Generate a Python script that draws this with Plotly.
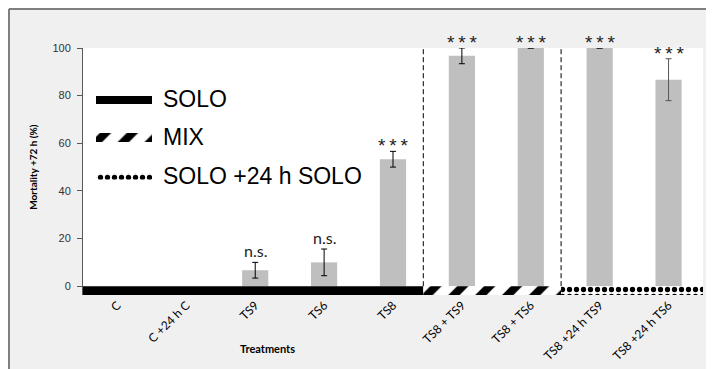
import plotly.graph_objects as go

# ---------------- data ----------------
categories = ["C", "C +24 h C", "TS9", "TS6", "TS8",
              "TS8 + TS9", "TS8 + TS6", "TS8 +24 h TS9", "TS8 +24 h TS6"]
mortality = [0, 0, 6.7, 10.0, 53.3, 96.7, 100, 100, 86.7]
errors = [None, None, 3.3, 5.6, 3.3, 3.3, 0, 0, 8.8]
significance = ["", "", "n.s.", "n.s.", "***", "***", "***", "***", "***"]

group_labels = ["SOLO", "MIX", "SOLO +24 h SOLO"]
group_sizes = [5, 2, 2]
y_ticks = [0, 20, 40, 60, 80, 100]

# ---------------- style ----------------
FONT_AR = "Arial, 'Liberation Sans', sans-serif"
FONT_CAL = "Lato, 'Open Sans', sans-serif"
W, H = 706, 361
ML, MT, MB = 75, 40, 74
PW, PH = 620, H - MT - MB
MR = W - ML - PW
BAND = 3.7          # depth of the group band below zero (y units)
EDGE_SHIFT = -0.06  # small shift of group separators
pat_shapes = ["", "/", "."]
pat_sizes = [8, 19, 7]
pat_solid = [0.3, 0.42, 0.45]
band_colors = ["black", "white", "white"]
leg_y = [195, 157.5, 118.5]      # legend rows (pixels from plot bottom)
leg_th = [8, 9, 6]

# group boundaries from group sizes
bounds = [-0.5]
for s in group_sizes:
    bounds.append(bounds[-1] + s)
edges = [bounds[0]] + [b + EDGE_SHIFT for b in bounds[1:-1]] + [bounds[-1]]


def marker_for(i):
    m = dict(color=band_colors[i], line=dict(width=0))
    if pat_shapes[i]:
        m["pattern"] = dict(shape=pat_shapes[i], fgcolor="black", bgcolor="white",
                            fgopacity=1, size=pat_sizes[i], solidity=pat_solid[i])
    return m


fig = go.Figure()

# main bars
fig.add_trace(go.Bar(
    x=categories, y=mortality, width=0.38,
    marker=dict(color="#bfbfbf", line=dict(width=0)),
    showlegend=False, cliponaxis=False, hoverinfo="x+y",
))

# error bars only where an error exists
ex = [c for c, e in zip(categories, errors) if e is not None]
ey = [v for v, e in zip(mortality, errors) if e is not None]
ee = [e for e in errors if e is not None]
err_colors = ["black"] * (len(ex) - 1) + ["#555555"]
for xx, yy, e, col in zip(ex, ey, ee, err_colors):
    fig.add_trace(go.Scatter(
        x=[xx], y=[yy], mode="markers", marker=dict(size=0.1, opacity=0),
        error_y=dict(type="data", array=[e], visible=True,
                     color=col, thickness=1, width=3),
        showlegend=False, cliponaxis=False,
    ))

# group band under the axis + legend swatches
for i in range(len(group_sizes)):
    fig.add_trace(go.Bar(
        x=[(edges[i] + edges[i + 1]) / 2], y=[BAND], base=[-BAND],
        width=[edges[i + 1] - edges[i]],
        xaxis="x2", yaxis="y", marker=marker_for(i), showlegend=False,
    ))
    fig.add_trace(go.Bar(
        orientation="h", y=[leg_y[i]], x=[56], base=[13], width=[leg_th[i]],
        xaxis="x3", yaxis="y3", marker=marker_for(i), showlegend=False,
    ))

annotations = []
for lbl, yy in zip(group_labels, leg_y):
    annotations.append(dict(x=78, y=yy + 1, xref="x3", yref="y3", text=lbl,
                            showarrow=False, xanchor="left", yanchor="middle",
                            font=dict(family=FONT_AR, size=23, color="black")))

for c, v, e, s in zip(categories, mortality, errors, significance):
    if not s:
        continue
    top = v + (e or 0)
    if s == "***":
        annotations.append(dict(x=c, y=top, xref="x", yref="y",
                                text="*\u2009*\u2009*",
                                showarrow=False, yanchor="bottom", yshift=-7,
                                font=dict(family=FONT_AR, size=19, color="#222222")))
    else:
        annotations.append(dict(x=c, y=top, xref="x", yref="y", text=s,
                                showarrow=False, yanchor="bottom", yshift=0,
                                font=dict(family=FONT_CAL, size=16, color="#222222")))

annotations.append(dict(x=-0.081, y=0.518, xref="paper", yref="paper",
                        text="<b>Mortality +72 h (%)</b>", textangle=-90,
                        showarrow=False, xanchor="center", yanchor="middle",
                        font=dict(family=FONT_CAL, size=10, color="black")))
annotations.append(dict(x=0.297, y=-0.215, xref="paper", yref="paper",
                        text="<b>Treatments</b>",
                        showarrow=False, xanchor="center", yanchor="middle",
                        font=dict(family=FONT_CAL, size=11, color="black")))

shapes = []
for b in edges[1:-1]:
    shapes.append(dict(type="line", xref="x", yref="y", x0=b, x1=b, y0=0, y1=100,
                       line=dict(color="black", width=1, dash="5px,3px")))
# outer frame (left and top)
shapes.append(dict(type="line", xref="paper", yref="paper",
                   x0=-(ML - 1) / PW, x1=-(ML - 1) / PW,
                   y0=-(MB + 20) / PH, y1=1 + (MT - 1) / PH,
                   line=dict(color="#7f7f7f", width=2), layer="below"))
shapes.append(dict(type="line", xref="paper", yref="paper",
                   x0=-(ML - 1) / PW, x1=1 + (MR + 20) / PW,
                   y0=1 + (MT - 1) / PH, y1=1 + (MT - 1) / PH,
                   line=dict(color="#7f7f7f", width=2), layer="below"))

fig.update_layout(
    width=W, height=H,
    margin=dict(l=ML, r=MR, t=MT, b=MB, autoexpand=False),
    paper_bgcolor="#f0f0f0", plot_bgcolor="white",
    barmode="overlay",
    showlegend=False,
    xaxis=dict(type="category", range=[-0.5, 8.5], showgrid=False, zeroline=False,
               showline=False, ticks="", tickangle=-45, automargin=False,
               tickfont=dict(family=FONT_CAL, size=12, color="black")),
    xaxis2=dict(overlaying="x", range=[-0.5, 8.5], visible=False),
    yaxis=dict(range=[-BAND, 100], tickvals=y_ticks, showgrid=False, zeroline=False,
               showline=True, linecolor="#595959", linewidth=1,
               ticks="outside", ticklen=5, tickcolor="#595959",
               ticklabelstandoff=4, automargin=False,
               tickfont=dict(family=FONT_AR, size=11, color="#333333")),
    xaxis3=dict(overlaying="x", range=[0, PW], visible=False),
    yaxis3=dict(overlaying="y", range=[0, PH], visible=False),
    annotations=annotations,
    shapes=shapes,
)

fig.write_html("out.html")
